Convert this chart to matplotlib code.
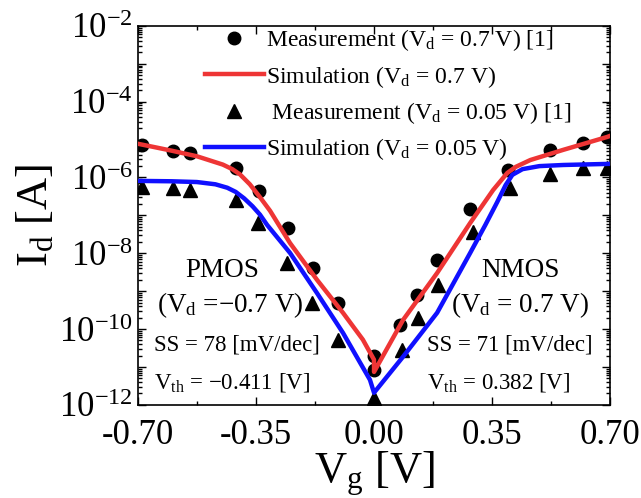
import numpy as np
import matplotlib
matplotlib.use('Agg')
import matplotlib.pyplot as plt
from matplotlib.ticker import LogLocator, FixedLocator, NullFormatter, FuncFormatter

plt.rcParams['font.family'] = ['Liberation Serif', 'DejaVu Serif']
plt.rcParams['mathtext.fontset'] = 'custom'
plt.rcParams['mathtext.rm'] = 'Liberation Serif'
plt.rcParams['mathtext.it'] = 'Liberation Serif:italic'
plt.rcParams['mathtext.default'] = 'regular'
plt.rcParams['axes.unicode_minus'] = False

# measurement, Vd = 0.7 V (circles)
meas07_vg = [-0.689, -0.596, -0.546, -0.409, -0.341, -0.255, -0.181, -0.107, 0.0, 0.0,
             0.077, 0.128, 0.187, 0.285, 0.397, 0.522, 0.620, 0.691]
meas07_id = [7.2e-6, 5.0e-6, 4.5e-6, 1.8e-6, 4.5e-7, 4.7e-8, 4.1e-9, 4.9e-10, 1.9e-11, 8.4e-12,
             1.3e-10, 8.0e-10, 6.8e-9, 1.5e-7, 1.6e-6, 5.4e-6, 8.2e-6, 1.2e-5]

# measurement, Vd = 0.05 V (triangles)
meas005_vg = [-0.688, -0.596, -0.546, -0.409, -0.344, -0.258, -0.184, -0.107, 0.0,
              0.083, 0.131, 0.190, 0.294, 0.404, 0.522, 0.620, 0.691]
meas005_id = [5.6e-7, 5.4e-7, 4.7e-7, 2.6e-7, 6.3e-8, 5.6e-9, 4.9e-10, 5.2e-11, 1.5e-12,
              2.8e-11, 2.0e-10, 1.5e-9, 3.6e-8, 5.4e-7, 1.2e-6, 1.8e-6, 1.8e-6]

# simulation, Vd = 0.7 V  (log10 of Id)
sim07_vg = [-0.700, -0.650, -0.596, -0.525, -0.448, -0.420, -0.397, -0.368, -0.338, -0.308,
            -0.249, -0.169, -0.092, -0.033, 0.0, 0.0, 0.086, 0.187, 0.285, 0.353, 0.395,
            0.420, 0.463, 0.561, 0.691, 0.700]
sim07_log = [-5.11, -5.20, -5.30, -5.44, -5.66, -5.78, -5.92, -6.18, -6.52, -6.88,
             -7.73, -8.70, -9.57, -10.28, -10.81, -11.13, -9.76, -8.52, -7.20, -6.33, -5.88,
             -5.72, -5.54, -5.27, -4.93, -4.90]

# simulation, Vd = 0.05 V  (log10 of Id)
sim005_vg = [-0.700, -0.600, -0.525, -0.470, -0.435, -0.410, -0.385, -0.360, -0.338, -0.317,
             -0.249, -0.169, -0.092, -0.012, 0.0, 0.086, 0.187, 0.285, 0.330, 0.365, 0.390,
             0.410, 0.440, 0.490, 0.561, 0.700]
sim005_log = [-6.09, -6.10, -6.12, -6.18, -6.27, -6.38, -6.55, -6.76, -6.98, -7.25,
              -7.99, -9.05, -10.10, -11.34, -11.68, -10.73, -9.57, -7.99, -7.25, -6.65, -6.20,
              -5.93, -5.78, -5.70, -5.67, -5.64]

fig = plt.figure(figsize=(6.41, 4.98), dpi=100)
ax = fig.add_axes([0.215, 0.187, 0.737, 0.761])

l_m07, = ax.plot(meas07_vg, meas07_id, 'o', color='black', markersize=9, zorder=2,
                 label=r'Measurement (V$_\mathrm{d}$ = 0.7 V) [1]')
l_s07, = ax.plot(sim07_vg, 10.0 ** np.array(sim07_log), '-', color='#ee3535', lw=3.2, zorder=3,
                 label=r'Simulation (V$_\mathrm{d}$ = 0.7 V)')
l_m005, = ax.plot(meas005_vg, meas005_id, '^', color='black', markersize=9.5, zorder=2,
                  label=r' Measurement (V$_\mathrm{d}$ = 0.05 V) [1]')
l_s005, = ax.plot(sim005_vg, 10.0 ** np.array(sim005_log), '-', color='#1010ff', lw=3.2, zorder=3,
                  label=r'Simulation (V$_\mathrm{d}$ = 0.05 V)')

ax.set_yscale('log')
ax.set_xlim(-0.7, 0.7)
ax.set_ylim(1e-12, 1e-2)

ax.xaxis.set_major_locator(FixedLocator([-0.7, -0.35, 0.0, 0.35, 0.7]))
ax.xaxis.set_minor_locator(FixedLocator([-0.525, -0.175, 0.175, 0.525]))
ax.xaxis.set_major_formatter(FuncFormatter(lambda v, p: '%.2f' % v if abs(v) > 1e-9 else '0.00'))

ax.yaxis.set_major_locator(LogLocator(base=10, numticks=20))
ax.yaxis.set_minor_locator(LogLocator(base=10, subs=np.arange(2, 10), numticks=20))
ax.yaxis.set_minor_formatter(NullFormatter())


def ylab(v, p):
    e = int(round(np.log10(v)))
    if e % 2 == 0:
        return r'10$^{%d}$' % e
    return ''


ax.yaxis.set_major_formatter(FuncFormatter(ylab))

ax.tick_params(which='both', direction='in', top=True, right=True, width=1.0)
ax.tick_params(which='major', length=6, labelsize=25)
ax.tick_params(axis='x', which='major', pad=10)
ax.tick_params(which='minor', length=3)
for s in ax.spines.values():
    s.set_linewidth(1.2)

ax.set_xlabel(r'V$_\mathrm{g}$ [V]', fontsize=32, labelpad=-2)
ax.set_ylabel(r'I$_\mathrm{d}$ [A]', fontsize=32, labelpad=2)

leg = ax.legend(handles=[l_m07, l_s07, l_m005, l_s005], loc='upper left',
                bbox_to_anchor=(0.142, 0.996), frameon=False, fontsize=17,
                handlelength=2.5, handletextpad=0.1, labelspacing=0.44,
                borderaxespad=0, borderpad=0)

# annotations
ax.text(-0.451, 3.6e-9, 'PMOS', fontsize=19.5, ha='center', va='center')
ax.text(-0.427, 4.4e-10, r'(V$_\mathrm{d}$ =$-$0.7 V)', fontsize=19.5, ha='center', va='center')
ax.text(-0.652, 3.8e-11, 'SS = 78 [mV/dec]', fontsize=16.5, ha='left', va='center')
ax.text(-0.652, 4e-12, r'V$_\mathrm{th}$ = $-$0.411 [V]', fontsize=16.5, ha='left', va='center')

ax.text(0.433, 3.6e-9, 'NMOS', fontsize=19.5, ha='center', va='center')
ax.text(0.433, 4.4e-10, r'(V$_\mathrm{d}$ = 0.7 V)', fontsize=19.5, ha='center', va='center')
ax.text(0.157, 3.8e-11, 'SS = 71 [mV/dec]', fontsize=16.5, ha='left', va='center')
ax.text(0.157, 4e-12, r'V$_\mathrm{th}$ = 0.382 [V]', fontsize=16.5, ha='left', va='center')

fig.savefig('out.png', dpi=100)
